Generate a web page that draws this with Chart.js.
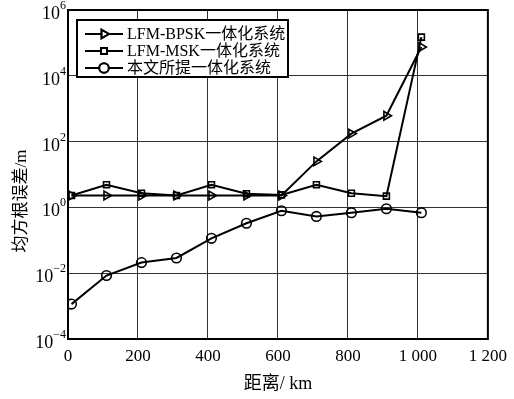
<!DOCTYPE html>
<html>
<head>
<meta charset="utf-8">
<script src="https://cdn.jsdelivr.net/npm/chart.js@4/dist/chart.umd.min.js"></script>
<style>
  html, body { margin: 0; padding: 0; background: #fff; }
  #wrap { width: 514px; height: 399px; }
</style>
</head>
<body>
<div id="wrap"><canvas id="c" width="514" height="399"></canvas></div>
<script>
// Distance (km) of each measurement
const distances = [10, 110, 210, 310, 410, 510, 610, 710, 810, 910, 1010];
// RMS error (m) for each system
const bpskErr = [2.3, 2.3, 2.3, 2.3, 2.3, 2.3, 2.3, 25, 175, 610, 75000];
const mskErr = [2.3, 4.9, 2.7, 2.3, 4.9, 2.6, 2.4, 4.9, 2.7, 2.2, 150000];
const propErr = [0.00115, 0.0085, 0.021, 0.029, 0.115, 0.33, 0.79, 0.53, 0.69, 0.91, 0.69];

const seriesNames = ['LFM-BPSK一体化系统', 'LFM-MSK一体化系统', '本文所提一体化系统'];
const xTicks = [0, 200, 400, 600, 800, 1000, 1200];
const xTickLabels = ['0', '200', '400', '600', '800', '1 000', '1 200'];
const yTicks = [1e-4, 1e-2, 1e0, 1e2, 1e4, 1e6];
const yTickExponents = ['−4', '−2', '0', '2', '4', '6'];
const xTitle = '距离/ km';
const yTitle = '均方根误差/m';

const FONT = '"Liberation Serif", "Times New Roman", "Noto Sans CJK SC", serif';

function pts(ys) { return distances.map((x, i) => ({ x, y: ys[i] })); }

const styles = [
  { pointStyle: 'triangle', rotation: 90, radius: 5 },
  { pointStyle: 'rect', rotation: 0, radius: 4.2 },
  { pointStyle: 'circle', rotation: 0, radius: 4.8 }
];

const datasets = [bpskErr, mskErr, propErr].map((d, i) => ({
  label: seriesNames[i],
  data: pts(d),
  borderColor: '#000',
  borderWidth: 2,
  backgroundColor: 'rgba(255,255,255,0)',
  pointStyle: styles[i].pointStyle,
  pointRotation: styles[i].rotation,
  pointRadius: styles[i].radius,
  pointBorderWidth: 1.6,
  pointBorderColor: '#000',
  pointBackgroundColor: 'rgba(255,255,255,0)',
  tension: 0
}));

// Frame, power-of-ten tick labels, framed legend and the rotated y title
const overlay = {
  id: 'overlay',
  afterDraw(chart) {
    const ctx = chart.ctx;
    const ca = chart.chartArea;
    const ys = chart.scales.y;
    ctx.save();
    ctx.strokeStyle = '#000';
    ctx.lineWidth = 2;
    ctx.strokeRect(ca.left, ca.top, ca.right - ca.left, ca.bottom - ca.top);

    // y tick labels as 10 with a raised exponent
    ctx.fillStyle = '#000';
    ctx.textBaseline = 'alphabetic';
    yTicks.forEach((v, i) => {
      const py = ys.getPixelForValue(v);
      const right = ca.left - 2;
      ctx.font = '12px ' + FONT;
      ctx.textAlign = 'right';
      const expW = ctx.measureText(yTickExponents[i]).width;
      ctx.fillText(yTickExponents[i], right, py - 1);
      ctx.font = '18px ' + FONT;
      ctx.fillText('10', right - expW, py + 9);
    });

    // legend box
    const bx = 77, by = 20, bw = 211, bh = 57;
    ctx.fillStyle = '#fff';
    ctx.fillRect(bx, by, bw, bh);
    ctx.lineWidth = 2;
    ctx.strokeRect(bx, by, bw, bh);
    const rows = [34, 51, 68];
    ctx.font = '16px ' + FONT;
    ctx.textBaseline = 'middle';
    ctx.textAlign = 'left';
    chart.data.datasets.forEach((ds, i) => {
      const y = rows[i];
      ctx.strokeStyle = '#000';
      ctx.lineWidth = 2;
      ctx.beginPath();
      ctx.moveTo(85, y);
      ctx.lineTo(123, y);
      ctx.stroke();
      ctx.fillStyle = '#fff';
      Chart.helpers.drawPoint(ctx, {
        pointStyle: ds.pointStyle,
        rotation: ds.pointRotation,
        radius: ds.pointRadius,
        borderWidth: ds.pointBorderWidth
      }, 104, y);
      ctx.lineWidth = 1.6;
      ctx.stroke();
      ctx.fillStyle = '#000';
      ctx.fillText(ds.label, 127, y + 1);
    });

    // y axis title
    ctx.translate(22, 201);
    ctx.rotate(-Math.PI / 2);
    ctx.font = '17px ' + FONT;
    ctx.textAlign = 'center';
    ctx.textBaseline = 'middle';
    ctx.fillStyle = '#000';
    ctx.fillText(yTitle, 0, 0);
    ctx.restore();
  }
};

new Chart(document.getElementById('c'), {
  type: 'line',
  data: { datasets },
  plugins: [overlay],
  options: {
    responsive: false,
    animation: false,
    layout: { padding: { left: 0, top: 10, right: 26, bottom: 0 } },
    plugins: { legend: { display: false }, tooltip: { enabled: false } },
    scales: {
      x: {
        type: 'linear',
        min: 0,
        max: 1200,
        afterBuildTicks(s) { s.ticks = xTicks.map(v => ({ value: v })); },
        afterFit(s) { s.height = 60; },
        ticks: {
          color: '#000',
          font: { family: FONT, size: 17 },
          padding: 7,
          maxRotation: 0,
          callback(v) { const i = xTicks.indexOf(v); return i >= 0 ? xTickLabels[i] : ''; }
        },
        grid: { color: '#333', lineWidth: 1, drawTicks: false },
        border: { display: false },
        title: {
          display: true,
          text: xTitle,
          color: '#000',
          font: { family: FONT, size: 18 },
          padding: { top: 8 }
        }
      },
      y: {
        type: 'logarithmic',
        min: 1e-4,
        max: 1e6,
        afterBuildTicks(s) { s.ticks = yTicks.map(v => ({ value: v })); },
        afterFit(s) { s.width = 68; },
        ticks: { display: false },
        grid: { color: '#333', lineWidth: 1, drawTicks: false },
        border: { display: false }
      }
    }
  }
});
</script>
</body>
</html>
